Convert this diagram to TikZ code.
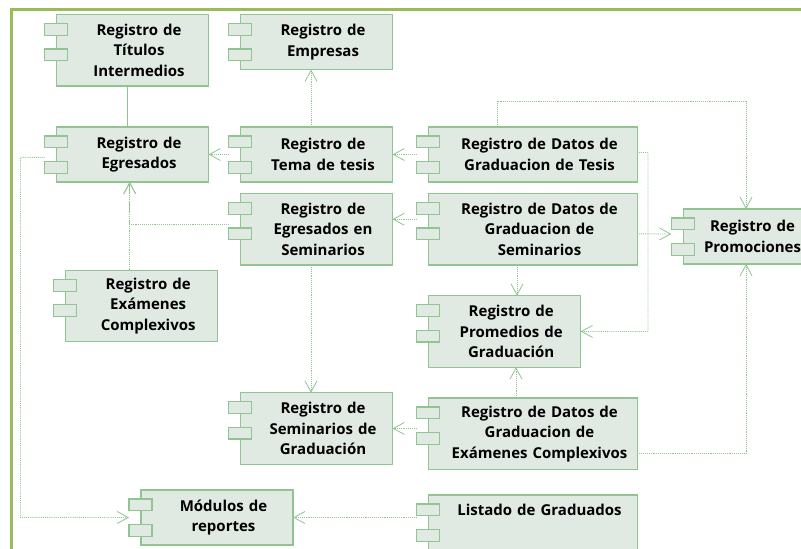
\documentclass[tikz,border=0pt]{standalone}
\usepackage{fontspec}
\setmainfont{Open Sans}
\usetikzlibrary{arrows.meta}
\definecolor{framegreen}{HTML}{9BBB59}
\definecolor{compline}{HTML}{90C490}
\definecolor{compfill}{HTML}{E1E9E3}
\tikzset{%
  >={Straight Barb[length=11pt,width=12pt,line width=.8pt]},
            base/.style = {rectangle, draw=compline, fill=compfill, line width=1.1pt,
                           outer sep=0pt, inner xsep=0pt, inner ysep=0pt, anchor=north west,
                           font=\fontsize{15}{20.5}\selectfont\bfseries,
                           execute at begin node={\centering\leftskip=13pt plus 1fil\baselineskip=20.5pt}},
  box2/.style = {base, text width=152pt, minimum height=55pt},
  box3/.style = {base, text width=152pt, minimum height=71.5pt},
  wide2/.style = {base, text width=208.6pt, minimum height=55pt},
  wide3/.style = {base, text width=208.6pt, minimum height=71.5pt},
  tab/.style = {rectangle, draw=compline, fill=compfill, line width=1.1pt, outer sep=0pt,
                inner sep=0pt, minimum width=23pt, minimum height=11.8pt, anchor=north west},
  dep/.style = {draw=compline, line width=.9pt, densely dotted},
  link/.style = {draw=compline, line width=1.1pt},
  frameline/.style = {draw=framegreen, line width=3pt},
}
\begin{document}
\begin{tikzpicture}[x=1pt, y=-1pt]

  \clip (0,0) rectangle (801,549);
  \draw[frameline] (11.5,549) -- (11.5,9.5) -- (801,9.5);

  \node (titulos)   [box3]  at (56.5,14.5)  {Registro de\\Títulos\\Intermedios};
  \node (empresas)  [box2]  at (240.5,14.5) {Registro de\\Empresas};
  \node (egresados) [box2]  at (56.5,127)   {Registro de\\Egresados};
  \node (tema)      [box2]  at (240.5,127)  {Registro de\\Tema de tesis};
  \node (datosTes)  [wide2] at (428.7,127)  {Registro de Datos de\\Graduacion de Tesis};
  \node (egreSem)   [box3]  at (240.5,193.5) {Registro de\\Egresados en\\Seminarios};
  \node (datosSem)  [wide3] at (428.7,193.5) {Registro de Datos de\\Graduacion de\\Seminarios};
  \node (promo)     [box2, text width=125.5pt] at (683.3,209) {Registro de\\Promociones};
  \node (examenes)  [box3]  at (65.7,270.3) {Registro de\\Exámenes\\Complexivos};
  \node (promedios) [box3]  at (428.7,295.7) {Registro de\\Promedios de\\Graduación};
  \node (semGrad)   [box3]  at (240.5,392.7) {Registro de\\Seminarios de\\Graduación};
  \node (datosExa)  [wide3] at (428.7,398)  {Registro de Datos de\\Graduacion de\\Exámenes Complexivos};
  \node (modulos)   [box2]  at (141,490)    {Módulos de\\reportes};
  \node (listado)   [wide3] at (428.7,495)  {Listado de Graduados\\~\\~};

  \foreach \n in {titulos,empresas,egresados,tema,datosTes,egreSem,datosSem,promo,examenes,promedios,semGrad,datosExa,modulos,listado} {
    \node (\n A) [tab] at ([xshift=-12pt,yshift=-9pt]\n.north west) {};
    \node (\n B) [tab] at ([xshift=-12pt,yshift=-34.5pt]\n.north west) {};
  }

  \draw[link] ([xshift=-4.8pt]titulos.south) -- ([xshift=-4.8pt]egresados.north);
  \draw[dep,->] ([xshift=-5.5pt]tema.north) -- ([xshift=-5.5pt]empresas.south);
  \draw[dep,->] (tema.west -| temaA.west) -- (egresados.east);
  \draw[dep,->] (datosTes.west -| datosTesA.west) -- (tema.east);
  \draw[dep,->] ([xshift=-36pt]datosTes.north) |- ++(0,-26) -| (promo.north);
  \draw[dep,->] ([yshift=2pt]datosTes.east) -| ++(10.7,179) -- (promedios.east);
  \draw[dep,->] ([yshift=10pt]datosSem.west -| datosSemA.west) -- ([yshift=10pt]egreSem.east);
  \draw[dep,->] ([yshift=5pt]egreSem.west -| egreSemA.west) -| ([xshift=-2.8pt]egresados.south);
  \draw[dep,->] ([xshift=-12pt]examenes.north) -- ([xshift=-2.8pt]egresados.south);
  \draw[dep,->] ([xshift=-5.5pt]egreSem.south) -- ([xshift=-5.5pt]semGrad.north);
  \draw[dep,->] ([yshift=-4.6pt]datosSem.east) -- ([yshift=2.5pt]promo.west -| promoA.west);
  \draw[dep,->] ([xshift=-16pt]datosSem.south) -- ([xshift=12.3pt]promedios.north);
  \draw[dep,->] ([xshift=-17pt]datosExa.north) -- ([xshift=11.3pt]promedios.south);
  \draw[dep,->] (datosExa.west -| datosExaA.west) ++(0,-5.3) -- (semGrad.east);
  \draw[dep,->] ([yshift=-20pt]datosExa.east) -| (promo.south);
  \draw[dep,->] ([yshift=-2.8pt]egresados.west -| egresadosA.west) -| ++(-24,360) -- (modulos.west -| modulosA.west);
  \draw[dep,->] ([yshift=13.25pt]listado.west -| listadoA.west) -- (modulos.east);
  \end{tikzpicture}
\end{document}
